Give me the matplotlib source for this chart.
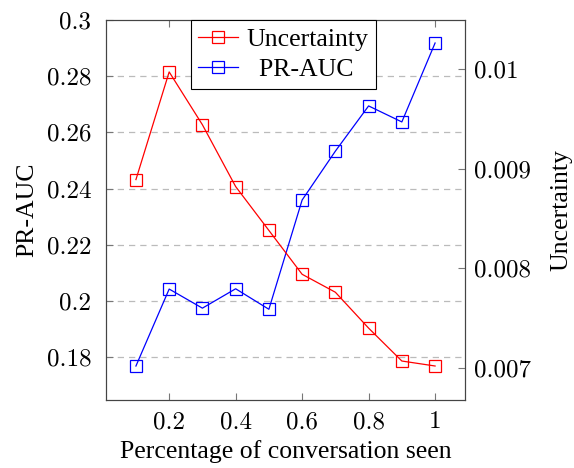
import matplotlib
matplotlib.use('Agg')
import matplotlib.pyplot as plt
from matplotlib.ticker import FuncFormatter

plt.rcParams['font.family'] = ['Liberation Serif', 'DejaVu Serif']

seen = [0.1, 0.2, 0.3, 0.4, 0.5, 0.6, 0.7, 0.8, 0.9, 1.0]
pr_auc = [0.1768, 0.2042, 0.1974, 0.2043, 0.1970, 0.2359, 0.2533, 0.2694, 0.2637, 0.2918]
uncertainty = [0.00889, 0.00997, 0.00944, 0.00882, 0.00838, 0.00794, 0.00776, 0.00740, 0.00707, 0.00702]
x_ticks = [0.2, 0.4, 0.6, 0.8, 1.0]
left_ticks = [0.18, 0.2, 0.22, 0.24, 0.26, 0.28, 0.3]
right_ticks = [0.007, 0.008, 0.009, 0.01]

fig = plt.figure(figsize=(5.74, 4.68), dpi=100)
ax = fig.add_axes([0.1847, 0.1453, 0.6254, 0.812])
ax2 = ax.twinx()

fmt = FuncFormatter(lambda v, p: '%g' % round(v, 4))

lb, = ax.plot(seen, pr_auc, color='blue', lw=0.9, marker='s', ms=8,
              mfc='none', mew=0.9, label='PR-AUC')
lr, = ax2.plot(seen, uncertainty, color='red', lw=0.9, marker='s', ms=8,
               mfc='none', mew=0.9, label='Uncertainty')

ax.set_xlim(0.01, 1.09)
ax.set_ylim(0.1647, 0.3)
ax2.set_ylim(0.006679, 0.010491)
ax.set_xticks(x_ticks)
ax.set_yticks(left_ticks)
ax2.set_yticks(right_ticks)
for a in (ax, ax2):
    a.xaxis.set_major_formatter(fmt)
    a.yaxis.set_major_formatter(fmt)
    for s in a.spines.values():
        s.set_color('#444444')
        s.set_linewidth(0.8)

ax.tick_params(axis='x', direction='in', top=True, length=5, width=0.8,
               color='#777777', labelsize=18, pad=8)
ax.tick_params(axis='y', direction='in', length=5, width=0.8,
               color='#777777', labelsize=18, pad=10.5)
ax2.tick_params(axis='y', direction='in', length=5, width=0.8,
                color='#777777', labelsize=18, pad=6.5)
for lab in ax.get_xticklabels() + ax.get_yticklabels() + ax2.get_yticklabels():
    lab.set_fontfamily('cmr10')

for t in left_ticks[:-1]:
    ax.axhline(t, color='#bbbbbb', lw=0.9, ls=(0, (5, 4)), zorder=0)

ax.set_xlabel('Percentage of conversation seen', fontsize=18.5, labelpad=5)
ax.set_ylabel('PR-AUC', fontsize=18.5, labelpad=6)
ax2.set_ylabel('Uncertainty', fontsize=18.5, labelpad=14)

leg = ax2.legend([lr, lb], ['Uncertainty', '  PR-AUC'], loc='upper left',
                 bbox_to_anchor=(0.236, 1.0), borderaxespad=0, fontsize=18.5,
                 fancybox=False, framealpha=1, edgecolor='black',
                 handlelength=1.55, handletextpad=0.3, borderpad=0.3,
                 labelspacing=0.3)
leg.get_frame().set_linewidth(0.8)

fig.savefig('out.png', dpi=100)
